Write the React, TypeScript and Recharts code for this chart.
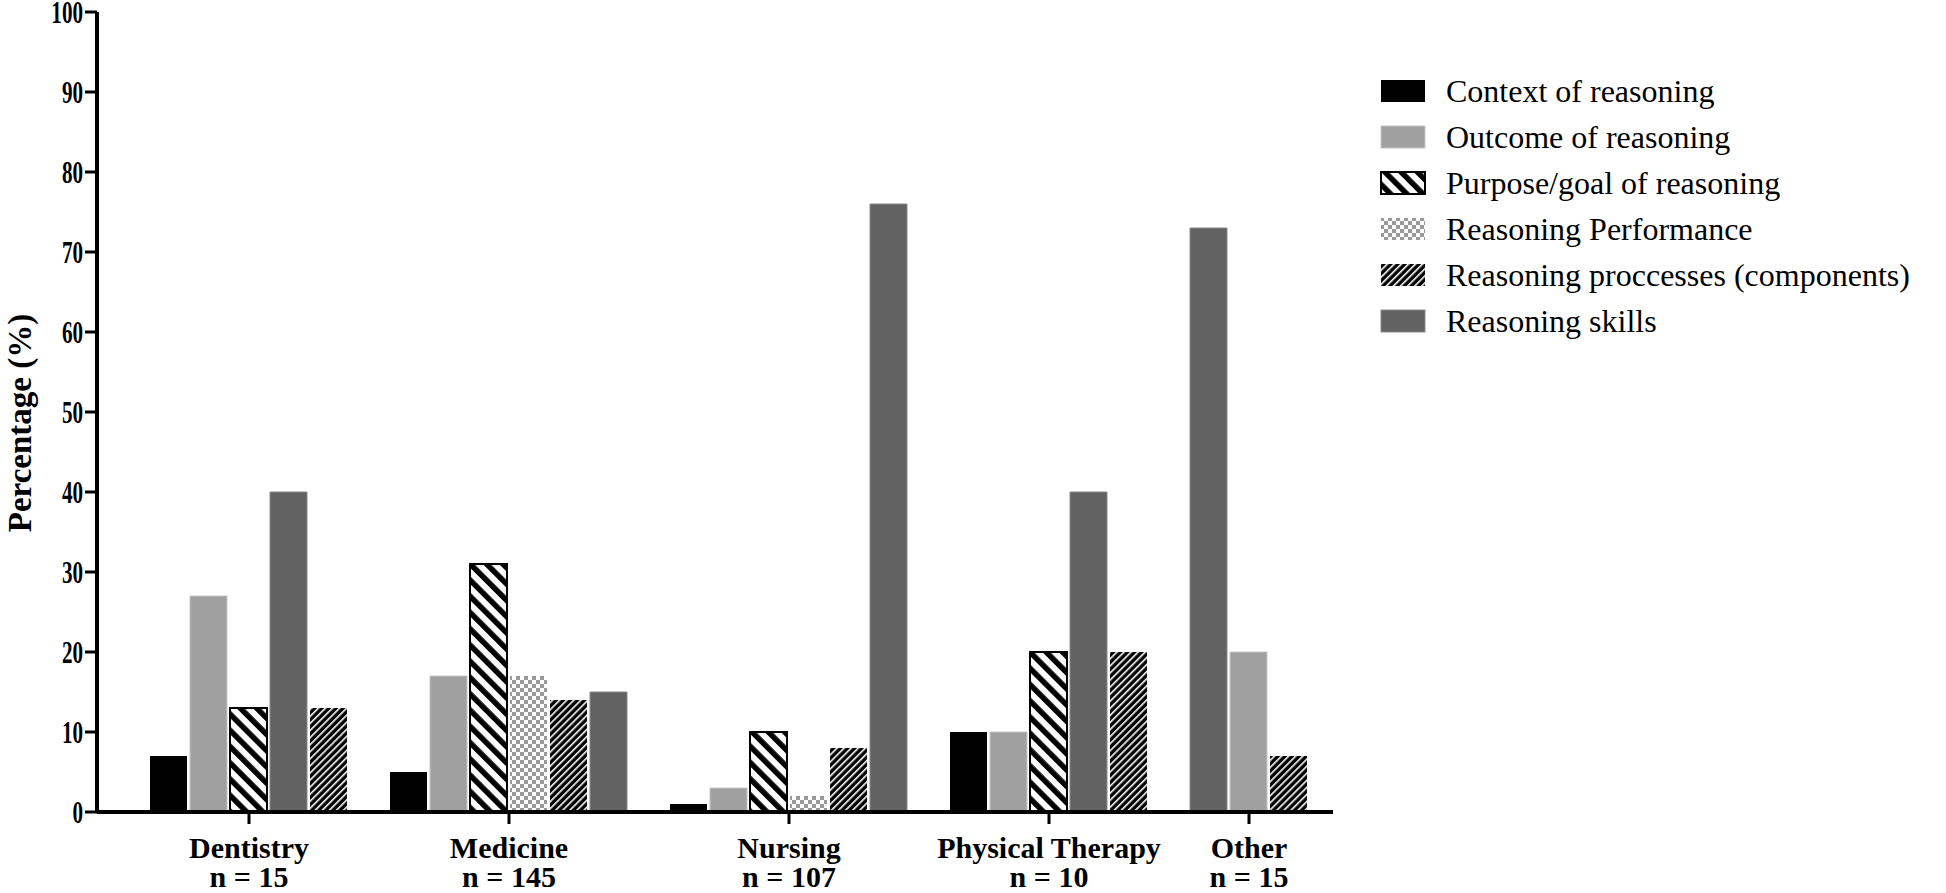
import { Bar, BarChart, XAxis, YAxis } from "recharts";

// categories (in drawing order) and the n shown under each
const groups = ["Dentistry", "Medicine", "Nursing", "Physical Therapy", "Other"];
const groupN = ["n = 15", "n = 145", "n = 107", "n = 10", "n = 15"];

const seriesKeys = ["context", "outcome", "purpose", "performance", "processes", "skills"];
const seriesNames = [
  "Context of reasoning",
  "Outcome of reasoning",
  "Purpose/goal of reasoning",
  "Reasoning Performance",
  "Reasoning proccesses (components)",
  "Reasoning skills",
];

// each group lists its bars left to right, with the percentage of each
const dentistryOrder = ["context", "outcome", "purpose", "skills", "processes"];
const dentistryValues = [7, 27, 13, 40, 13];
const medicineOrder = ["context", "outcome", "purpose", "performance", "processes", "skills"];
const medicineValues = [5, 17, 31, 17, 14, 15];
const nursingOrder = ["context", "outcome", "purpose", "performance", "processes", "skills"];
const nursingValues = [1, 3, 10, 2, 8, 76];
const physioOrder = ["context", "outcome", "purpose", "skills", "processes"];
const physioValues = [10, 10, 20, 40, 20];
const otherOrder = ["skills", "outcome", "processes"];
const otherValues = [73, 20, 7];

const yTicks = [0, 10, 20, 30, 40, 50, 60, 70, 80, 90, 100];

const groupOrders = [dentistryOrder, medicineOrder, nursingOrder, physioOrder, otherOrder];
const groupValues = [dentistryValues, medicineValues, nursingValues, physioValues, otherValues];

// one row per bar, one empty slot between groups
const rows: Record<string, number>[] = [];
const centers: number[] = [];
let slot = 0;
groupOrders.forEach((order, g) => {
  const first = slot;
  order.forEach((key, i) => {
    rows.push({ x: slot, [key]: groupValues[g][i] });
    slot++;
  });
  centers.push(first + (order.length - 1) / 2);
  slot++;
});
const lastSlot = slot - 2;

const fills: Record<string, string> = {
  context: "#000000",
  outcome: "#a0a0a0",
  purpose: "url(#purposeStripes)",
  performance: "url(#checker)",
  processes: "url(#processStripes)",
  skills: "#626262",
};
const strokes: Record<string, string> = {
  context: "none",
  outcome: "#c4c4c4",
  purpose: "#000000",
  performance: "none",
  processes: "none",
  skills: "#8a8a8a",
};

const FONT = "'Liberation Serif', 'Times New Roman', serif";

// tick digits in the original are tall and narrow
function YTick({ x, y, payload }: any) {
  return (
    <text
      transform={`translate(${x}, ${y}) scale(0.66, 1)`}
      textAnchor="end"
      dominantBaseline="central"
      fontFamily={FONT}
      fontWeight="bold"
      fontSize={32}
      fill="#000"
    >
      {payload.value}
    </text>
  );
}

function XTick({ x, y, payload }: any) {
  const i = centers.indexOf(payload.value);
  return (
    <text x={x} y={y} textAnchor="middle" fontFamily={FONT} fontWeight="bold" fontSize={30} fill="#000">
      <tspan x={x} dy={32}>
        {groups[i]}
      </tspan>
      <tspan x={x} dy={29}>
        {groupN[i]}
      </tspan>
    </text>
  );
}

function Patterns() {
  return (
    <svg width={0} height={0} style={{ position: "absolute" }}>
      <defs>
        <pattern
          id="purposeStripes"
          patternUnits="userSpaceOnUse"
          width={11.5}
          height={11.5}
          patternTransform="rotate(-45)"
        >
          <rect width={11.5} height={11.5} fill="#fff" />
          <rect width={5.5} height={11.5} fill="#000" />
        </pattern>
        <pattern
          id="processStripes"
          patternUnits="userSpaceOnUse"
          width={5}
          height={5}
          patternTransform="rotate(45)"
        >
          <rect width={5} height={5} fill="#000" />
          <rect width={1.6} height={5} fill="#fff" />
        </pattern>
        <pattern id="checker" patternUnits="userSpaceOnUse" width={8} height={8}>
          <rect width={8} height={8} fill="#ffffff" />
          <rect width={4} height={4} fill="#9a9a9a" />
          <rect x={4} y={4} width={4} height={4} fill="#9a9a9a" />
        </pattern>
      </defs>
    </svg>
  );
}

function LegendBox() {
  return (
    <div style={{ position: "absolute", left: 1380, top: 68, fontFamily: FONT, fontSize: 32 }}>
      {seriesKeys.map((key, i) => (
        <div key={key} style={{ display: "flex", alignItems: "center", height: 46 }}>
          <svg width={46} height={24}>
            <rect
              x={1}
              y={1}
              width={44}
              height={22}
              fill={fills[key]}
              stroke={strokes[key]}
              strokeWidth={key === "purpose" ? 2 : 1}
            />
          </svg>
          <span style={{ marginLeft: 20, whiteSpace: "nowrap" }}>{seriesNames[i]}</span>
        </div>
      ))}
    </div>
  );
}

export default function App() {
  return (
    <div style={{ position: "absolute", left: 0, top: 0, width: 1946, height: 893, background: "#fff" }}>
      <Patterns />
      <BarChart
        width={1946}
        height={893}
        data={rows}
        margin={{ top: 12, right: 613, left: 0, bottom: 0 }}
      >
        <XAxis
          dataKey="x"
          type="number"
          domain={[-1.8, lastSlot + 1.1]}
          allowDataOverflow
          ticks={centers}
          interval={0}
          height={81}
          tick={<XTick />}
          tickSize={12}
          tickLine={{ stroke: "#000", strokeWidth: 3 }}
          axisLine={{ stroke: "#000", strokeWidth: 4 }}
        />
        <YAxis
          type="number"
          domain={[0, 100]}
          ticks={yTicks}
          interval={0}
          width={97}
          tick={<YTick />}
          tickSize={12}
          tickLine={{ stroke: "#000", strokeWidth: 3 }}
          axisLine={{ stroke: "#000", strokeWidth: 4 }}
          label={{
            content: ({ viewBox }: any) => (
              <text
                transform={`translate(${viewBox.x + 31}, ${viewBox.y + viewBox.height / 2 + 11}) rotate(-90)`}
                textAnchor="middle"
                fontFamily={FONT}
                fontWeight="bold"
                fontSize={33}
                fill="#000"
              >
                Percentage (%)
              </text>
            ),
          }}
        />
        {seriesKeys.map((key) => (
          <Bar
            key={key}
            dataKey={key}
            name={seriesNames[seriesKeys.indexOf(key)]}
            stackId="all"
            barSize={37}
            fill={fills[key]}
            stroke={strokes[key]}
            strokeWidth={key === "purpose" ? 2 : 1}
            isAnimationActive={false}
          />
        ))}
      </BarChart>
      <LegendBox />
    </div>
  );
}
